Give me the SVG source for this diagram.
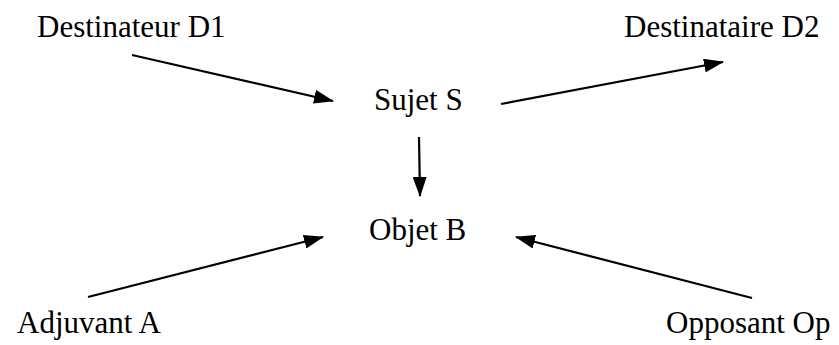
<svg xmlns="http://www.w3.org/2000/svg" width="839" height="345" viewBox="0 0 839 345">
<defs>
<style>
.lbl{font-family:"Liberation Serif","Times New Roman",serif;font-size:31px;fill:#000}
.con{stroke:#000;stroke-width:2.2;fill:none}
</style>
<marker id="ah" markerWidth="20" markerHeight="14" refX="19" refY="7" orient="auto" markerUnits="userSpaceOnUse">
<path d="M0,0 L20,7 L0,14 Z" fill="#000"/>
</marker>
</defs>
<rect width="839" height="345" fill="#fff"/>
<g id="connectors">
<line class="con" x1="132" y1="55" x2="333" y2="101" marker-end="url(#ah)"/>
<line class="con" x1="501" y1="104" x2="723" y2="62" marker-end="url(#ah)"/>
<line class="con" x1="419" y1="137" x2="420" y2="196" marker-end="url(#ah)"/>
<line class="con" x1="88" y1="297" x2="323" y2="237" marker-end="url(#ah)"/>
<line class="con" x1="752" y1="298" x2="516" y2="237" marker-end="url(#ah)"/>
</g>
<g id="destinateur"><text class="lbl" x="37" y="37">Destinateur D1</text></g>
<g id="destinataire"><text class="lbl" x="624" y="37">Destinataire D2</text></g>
<g id="sujet"><text class="lbl" x="374" y="110">Sujet S</text></g>
<g id="objet"><text class="lbl" x="369" y="240">Objet B</text></g>
<g id="adjuvant"><text class="lbl" x="17" y="333">Adjuvant A</text></g>
<g id="opposant"><text class="lbl" x="666" y="333">Opposant Op</text></g>
</svg>
